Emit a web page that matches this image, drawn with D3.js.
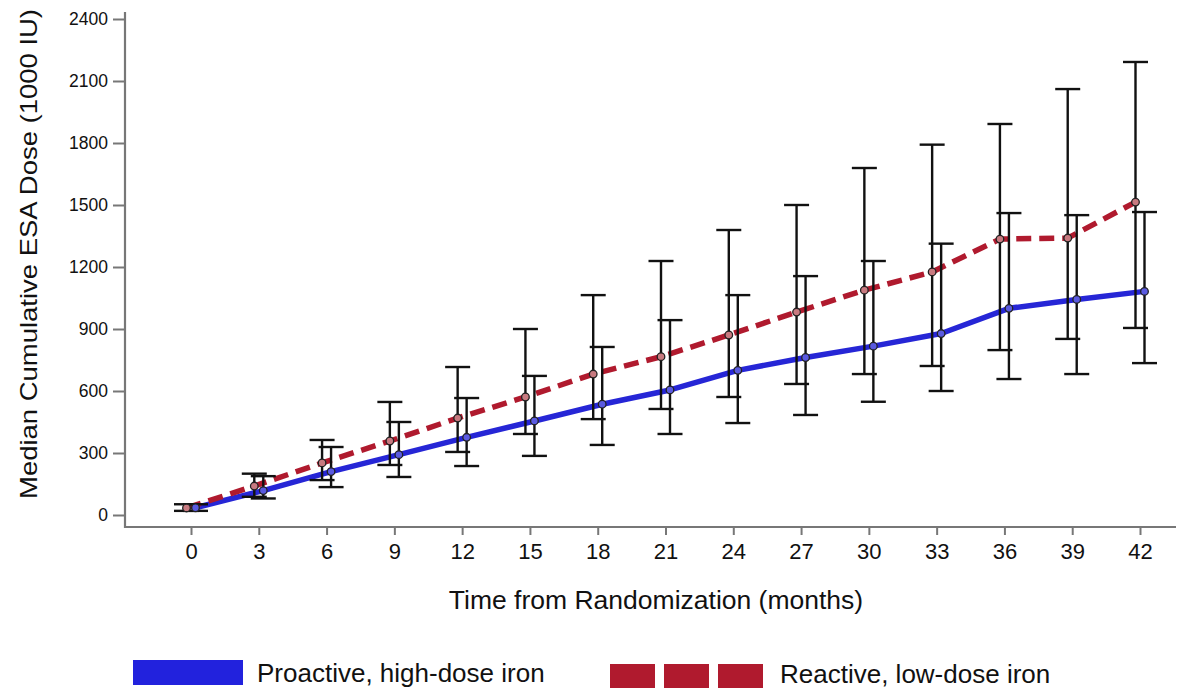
<!DOCTYPE html>
<html><head><meta charset="utf-8">
<script src="https://cdn.jsdelivr.net/npm/d3@7"></script>
<style>body{margin:0;background:#fff;} text{font-family:"Liberation Sans",Arial,sans-serif;}</style>
</head><body><svg id="c" width="1186" height="689"></svg>
<script>
const months = [0,3,6,9,12,15,18,21,24,27,30,33,36,39,42];
const proactiveMedian = [35,118,210,292,376,455,536,605,700,762,817,878,1000,1043,1082];
const proactiveUpper  = [52,188,329,450,566,673,813,943,1064,1156,1229,1313,1461,1451,1466];
const proactiveLower  = [20,80,135,184,237,286,339,392,445,484,548,600,658,682,735];
const reactiveMedian  = [34,140,252,358,469,571,682,766,871,982,1088,1176,1335,1340,1514];
const reactiveUpper   = [52,200,363,547,716,900,1064,1229,1379,1500,1679,1792,1892,2061,2192];
const reactiveLower   = [20,88,169,242,305,392,464,513,571,634,682,721,798,852,905];
const yTicks = [0,300,600,900,1200,1500,1800,2100,2400];
const seriesNames = ["Proactive, high-dose iron","Reactive, low-dose iron"];

const svg = d3.select("#c");
const x = d3.scaleLinear().domain([0,42]).range([191,1140]);
const y = d3.scaleLinear().domain([0,2400]).range([515,19]);
const axisColor = "#777";

// axes
const yAx = svg.append("g").attr("transform","translate(125,0)")
  .call(d3.axisLeft(y).tickValues(yTicks).tickFormat(d3.format("d")).tickSize(12).tickPadding(5).tickSizeOuter(0));
yAx.select(".domain").remove();
svg.append("line").attr("x1",125).attr("x2",125).attr("y1",12).attr("y2",528)
  .attr("stroke",axisColor).attr("stroke-width",2.2);
const xAx = svg.append("g").attr("transform","translate(0,527)")
  .call(d3.axisBottom(x).tickValues(months).tickFormat(d3.format("d")).tickSize(8).tickPadding(8).tickSizeOuter(0));
xAx.select(".domain").remove();
svg.append("line").attr("x1",124).attr("x2",1176).attr("y1",527).attr("y2",527)
  .attr("stroke",axisColor).attr("stroke-width",2.2);
[yAx,xAx].forEach(g=>{
  g.selectAll(".tick line").attr("stroke",axisColor).attr("stroke-width",2);
  g.selectAll(".tick text").attr("fill","#111")
   .attr("font-family","Liberation Sans, Arial, sans-serif");
});
yAx.selectAll(".tick text").attr("font-size",17.5);
xAx.selectAll(".tick text").attr("font-size",22);

// titles
svg.append("text").attr("transform","translate(37,254) rotate(-90)")
  .attr("text-anchor","middle").attr("font-size",24).attr("fill","#111")
  .attr("textLength",490).attr("lengthAdjust","spacingAndGlyphs")
  .text("Median Cumulative ESA Dose (1000 IU)");
svg.append("text").attr("x",656).attr("y",609).attr("text-anchor","middle")
  .attr("font-size",26.5).attr("fill","#111").text("Time from Randomization (months)");

const blue = "#2626d6", red = "#b01a2e";
const series = [
  {name:seriesNames[0], med:proactiveMedian, up:proactiveUpper, lo:proactiveLower, off:4.5, color:blue, dash:null, fill:"#5a5ae0"},
  {name:seriesNames[1], med:reactiveMedian, up:reactiveUpper, lo:reactiveLower, off:-4.5, color:red, dash:"15,8", fill:"#c87a80"}
];

// lines
series.forEach(s=>{
  const line = d3.line().x((d,i)=>x(months[i])+s.off).y(d=>y(d));
  svg.append("path").datum(s.med).attr("d",line).attr("fill","none")
    .attr("stroke",s.color).attr("stroke-width",5.5)
    .attr("stroke-dasharray",s.dash).attr("stroke-linejoin","round");
});

// error bars
series.forEach(s=>{
  const g = svg.append("g").attr("stroke","#111").attr("stroke-width",2.4);
  months.forEach((m,i)=>{
    const cx = x(m)+s.off;
    g.append("line").attr("x1",cx).attr("x2",cx).attr("y1",y(s.up[i])).attr("y2",y(s.lo[i]));
    [s.up[i],s.lo[i]].forEach(v=>g.append("line").attr("x1",cx-12.5).attr("x2",cx+12.5)
      .attr("y1",y(v)).attr("y2",y(v)));
  });
});
// points
series.forEach(s=>{
  svg.append("g").selectAll("circle").data(s.med).join("circle")
    .attr("cx",(d,i)=>x(months[i])+s.off).attr("cy",d=>y(d)).attr("r",3.8)
    .attr("fill",s.fill).attr("stroke","#222").attr("stroke-width",1.3);
});

// legend
svg.append("rect").attr("x",133).attr("y",660).attr("width",110).attr("height",25).attr("fill","#2222dd");
svg.append("text").attr("x",257).attr("y",682).attr("font-size",26).attr("fill","#111").text(seriesNames[0]);
[610,664,718].forEach(lx=>svg.append("rect").attr("x",lx).attr("y",664).attr("width",45).attr("height",24).attr("fill",red));
svg.append("text").attr("x",780).attr("y",683).attr("font-size",26).attr("fill","#111").text(seriesNames[1]);
</script></body></html>
